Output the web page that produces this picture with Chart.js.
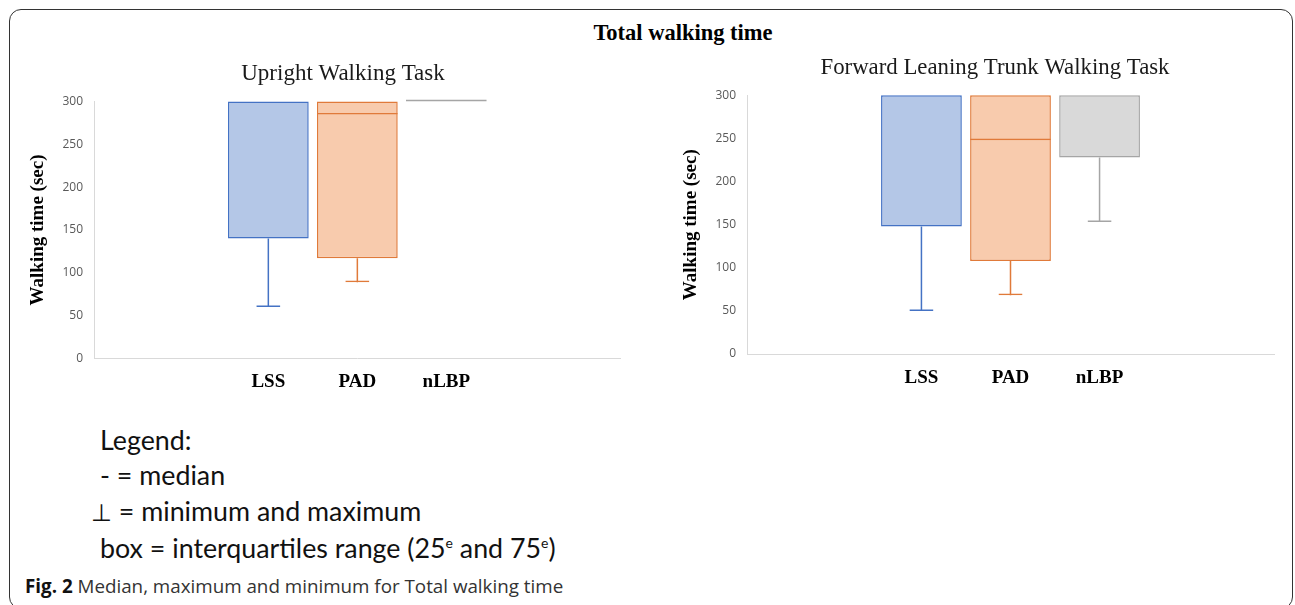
<!DOCTYPE html>
<html>
<head>
<meta charset="utf-8">
<script src="https://cdn.jsdelivr.net/npm/chart.js@4.4.1/dist/chart.umd.min.js"></script>
<style>
  html, body { margin: 0; padding: 0; background: #fff; overflow: hidden; }
  body { width: 1295px; height: 605px; position: relative; }
  #frame { position: absolute; left: 9px; top: 9px; width: 1284px; height: 600px;
           border: 1.5px solid #333; border-radius: 12px; box-sizing: border-box; pointer-events: none; }
  #mainTitle { position: absolute; left: 683px; top: 20px; transform: translateX(-50%);
               font: bold 22.5px "Liberation Serif", serif; line-height: 26px; color: #000; white-space: nowrap; }
  canvas { position: absolute; }
  #c1 { left: 20px; top: 50px; }
  #c2 { left: 673px; top: 44px; }
  #legend { position: absolute; left: 100px; top: 423px; font-family: Lato, sans-serif;
            font-size: 26.8px; line-height: 35.3px; color: #111; white-space: nowrap; }
  #legend .perp { font-family: "DejaVu Sans", sans-serif; font-size: 24px; margin-left: -9px; }
  #legend sup { font-size: 14px; vertical-align: 10px; line-height: 0; }
  #caption { position: absolute; left: 25px; top: 574px; font-family: "Open Sans", sans-serif;
             font-size: 18.8px; line-height: 24px; color: #333; white-space: nowrap; }
  #caption b { color: #111; }
</style>
</head>
<body>
<div id="mainTitle">Total walking time</div>
<canvas id="c1" width="646" height="350"></canvas>
<canvas id="c2" width="644" height="350"></canvas>
<div id="legend">
  <div>Legend:</div>
  <div>- = median</div>
  <div><span class="perp">⊥</span> = minimum and maximum</div>
  <div>box = interquartiles range (25<sup>e</sup> and 75<sup>e</sup>)</div>
</div>
<div id="caption"><b>Fig. 2</b> Median, maximum and minimum for Total walking time</div>
<div id="frame"></div>
<script>
// ---------- data ----------
const categories = ['LSS', 'PAD', 'nLBP'];
const yTickMin = 0;
const yTickMax = 300;
const yTickStep = 50;

// Upright Walking Task (seconds)
const uprightMin    = [60, 89, 300];
const uprightQ1     = [140, 117, 300];
const uprightMedian = [300, 285, 300];
const uprightQ3     = [300, 300, 300];
const uprightMax    = [300, 300, 300];

// Forward Leaning Trunk Walking Task (seconds)
const forwardMin    = [50, 68, 153];
const forwardQ1     = [148, 108, 228];
const forwardMedian = [300, 248, 300];
const forwardQ3     = [300, 300, 300];
const forwardMax    = [300, 300, 300];

// ---------- styles ----------
const palette = [
  { fill: '#b4c7e7', stroke: '#4472c4' },
  { fill: '#f8cbad', stroke: '#e07a3a' },
  { fill: '#d9d9d9', stroke: '#a5a5a5' }
];
const LINE = 1.5;

function buildDatasets(mins, q1s, meds, q3s, maxs) {
  const ds = [];
  const common = { categoryPercentage: 0.507, barPercentage: 0.907, inflateAmount: 0, clip: 4 };
  categories.forEach((cat, i) => {
    const c = palette[i];
    ds.push(Object.assign({ label: cat + ' median', stack: cat, data: [[meds[i], q3s[i]]],
      backgroundColor: 'rgba(0,0,0,0)', borderColor: c.stroke, borderSkipped: false,
      borderWidth: { top: 0, right: 0, bottom: LINE, left: 0 } }, common));
    ds.push(Object.assign({ label: cat + ' minimum', stack: cat, data: [[mins[i], q1s[i]]],
      backgroundColor: 'rgba(0,0,0,0)', borderColor: c.stroke, borderSkipped: false, maxBarThickness: 24,
      borderWidth: { top: 0, right: 0, bottom: LINE, left: 0 } }, common));
    ds.push(Object.assign({ label: cat + ' maximum', stack: cat, data: [[q3s[i], maxs[i]]],
      backgroundColor: 'rgba(0,0,0,0)', borderColor: c.stroke, borderSkipped: false, maxBarThickness: 24,
      borderWidth: { top: LINE, right: 0, bottom: 0, left: 0 } }, common));
    ds.push(Object.assign({ label: cat + ' lower whisker', stack: cat, data: [[mins[i], q1s[i]]],
      backgroundColor: c.stroke, borderWidth: 0, maxBarThickness: LINE }, common));
    ds.push(Object.assign({ label: cat + ' upper whisker', stack: cat, data: [[q3s[i], maxs[i]]],
      backgroundColor: c.stroke, borderWidth: 0, maxBarThickness: LINE }, common));
    ds.push(Object.assign({ label: cat, stack: cat, data: [[q1s[i], q3s[i]]],
      backgroundColor: c.fill, borderColor: c.stroke, borderWidth: LINE, borderSkipped: false,
      minBarLength: 2 }, common));
  });
  return ds;
}

const categoryLabelPlugin = {
  id: 'categoryLabels',
  afterDraw(chart) {
    const ctx = chart.ctx;
    const area = chart.chartArea;
    ctx.save();
    ctx.font = 'bold 19px "Liberation Serif", serif';
    ctx.fillStyle = '#000';
    ctx.textAlign = 'center';
    ctx.textBaseline = 'middle';
    categories.forEach((cat) => {
      const idx = chart.data.datasets.findIndex(d => d.label === cat);
      const el = chart.getDatasetMeta(idx).data[0];
      ctx.fillText(cat, el.x, area.bottom + 24);
    });
    ctx.restore();
  }
};

function makeChart(id, title, titleSize, mins, q1s, meds, q3s, maxs, rightSpace, bottomPad) {
  return new Chart(document.getElementById(id), {
    type: 'bar',
    data: { labels: [title], datasets: buildDatasets(mins, q1s, meds, q3s, maxs) },
    options: {
      responsive: false,
      animation: false,
      devicePixelRatio: 1,
      layout: { padding: { left: 0, top: 0, right: 0, bottom: bottomPad } },
      plugins: {
        legend: { display: false },
        tooltip: { enabled: false },
        title: {
          display: true, text: title, color: '#1a1a1a',
          font: { family: '"Liberation Serif", serif', size: titleSize, weight: 'normal' },
          padding: { top: 10, bottom: 14 }
        }
      },
      scales: {
        x: {
          type: 'category',
          stacked: true,
          grid: { display: false, drawTicks: false },
          border: { display: true, color: '#d9d9d9', width: 1 },
          ticks: { display: false },
          afterFit(scale) { scale.height = 0; }
        },
        y: {
          stacked: false,
          min: yTickMin, max: yTickMax,
          grid: { display: false, drawTicks: false },
          border: { display: true, color: '#d9d9d9', width: 1 },
          ticks: { stepSize: yTickStep, padding: 11, color: '#595959',
                   font: { family: '"Open Sans", sans-serif', size: 12 } },
          title: { display: true, text: 'Walking time (sec)', color: '#000',
                   font: { family: '"Liberation Serif", serif', size: 19, weight: 'bold' },
                   padding: { top: 7, bottom: 0 } },
          afterFit(scale) { scale.width = 74; }
        },
        spacer: {
          type: 'linear',
          position: 'right',
          display: true,
          grid: { display: false, drawTicks: false },
          border: { display: false },
          ticks: { display: false },
          afterFit(scale) { scale.width = rightSpace; }
        }
      }
    },
    plugins: [categoryLabelPlugin]
  });
}

makeChart('c1', 'Upright Walking Task', 23, uprightMin, uprightQ1, uprightMedian, uprightQ3, uprightMax, 45.3, 41.7);
makeChart('c2', 'Forward Leaning Trunk Walking Task', 22.8, forwardMin, forwardQ1, forwardMedian, forwardQ3, forwardMax, 43, 40);
</script>
</body>
</html>
